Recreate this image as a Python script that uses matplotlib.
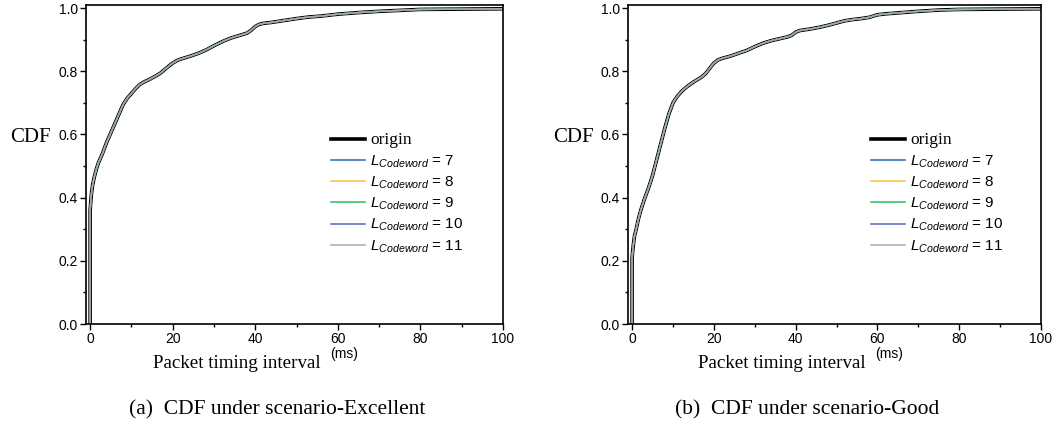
import matplotlib
matplotlib.use("Agg")
import matplotlib.pyplot as plt
from matplotlib.ticker import MultipleLocator

# CDF of packet timing interval, scenario Excellent
x_excellent = [0, 0, 0.3, 0.6, 1.0, 1.5, 2, 3, 4, 5, 6, 7, 8, 9, 10, 11, 12, 13, 14, 15,
               16, 17, 18, 19, 20, 21, 22, 24, 26, 28, 30, 32, 34, 36, 38, 39, 40, 41, 42,
               44, 46, 48, 50, 53, 56, 60, 65, 70, 75, 80, 90, 100]
cdf_excellent = [0, 0.36, 0.41, 0.44, 0.465, 0.49, 0.51, 0.54, 0.575, 0.605, 0.635, 0.665,
                 0.695, 0.715, 0.73, 0.745, 0.758, 0.766, 0.772, 0.779, 0.786, 0.794, 0.805,
                 0.816, 0.826, 0.834, 0.839, 0.847, 0.856, 0.867, 0.881, 0.894, 0.905, 0.913,
                 0.921, 0.93, 0.942, 0.949, 0.952, 0.955, 0.959, 0.963, 0.967, 0.972, 0.975,
                 0.981, 0.986, 0.99, 0.993, 0.996, 0.997, 0.998]

# scenario Good
x_good = [0, 0, 0.3, 0.6, 1, 1.5, 2, 3, 4, 5, 6, 7, 8, 9, 10, 11, 12, 13, 14, 15, 16, 17,
          18, 19, 20, 21, 22, 24, 26, 28, 30, 32, 34, 36, 38, 39, 40, 41, 42, 44, 46, 48,
          50, 52, 54, 56, 58, 60, 62, 65, 70, 75, 80, 90, 100]
cdf_good = [0, 0.21, 0.25, 0.28, 0.30, 0.33, 0.355, 0.395, 0.43, 0.47, 0.52, 0.57, 0.62,
            0.665, 0.70, 0.72, 0.735, 0.747, 0.757, 0.766, 0.774, 0.782, 0.793, 0.81, 0.826,
            0.836, 0.841, 0.848, 0.857, 0.866, 0.878, 0.889, 0.897, 0.903, 0.909, 0.914,
            0.924, 0.929, 0.931, 0.935, 0.94, 0.946, 0.953, 0.96, 0.964, 0.967, 0.971, 0.979,
            0.982, 0.985, 0.99, 0.994, 0.996, 0.997, 0.998]

codeword_lengths = [7, 8, 9, 10, 11]
codeword_colors = ["#2a64b0", "#f7c244", "#24c25c", "#5867b4", "#a9a9a9"]

captions = ["(a)  CDF under scenario-Excellent", "(b)  CDF under scenario-Good"]

plt.rcParams.update({
    "font.family": "Liberation Sans",
    "mathtext.fontset": "custom",
    "mathtext.it": "Liberation Sans:italic",
    "mathtext.rm": "Liberation Sans",
})

fig = plt.figure(figsize=(10.57, 4.32), dpi=100)
ax_a = fig.add_axes([86 / 1057, 1 - 324 / 432, 417 / 1057, 319 / 432])
ax_b = fig.add_axes([628 / 1057, 1 - 324 / 432, 413 / 1057, 319 / 432])

serif = "Liberation Serif"

for ax, xs, ys, cap, cx in [(ax_a, x_excellent, cdf_excellent, captions[0], 277),
                             (ax_b, x_good, cdf_good, captions[1], 807)]:
    ax.plot(xs, ys, color="black", linewidth=2.6, label="origin")
    for n, c in zip(codeword_lengths, codeword_colors):
        ax.plot(xs, ys, color=c, linewidth=1.1, label=r"$L_{Codeword}$ = %d" % n)

    ax.set_xlim(-1, 100)
    ax.set_ylim(0, 1.01)
    ax.xaxis.set_major_locator(MultipleLocator(20))
    ax.xaxis.set_minor_locator(MultipleLocator(10))
    ax.yaxis.set_major_locator(MultipleLocator(0.2))
    ax.yaxis.set_minor_locator(MultipleLocator(0.1))
    ax.yaxis.set_major_formatter(plt.FormatStrFormatter("%.1f"))
    ax.tick_params(which="major", direction="out", length=4, width=1, labelsize=10, pad=2)
    ax.tick_params(which="minor", direction="out", length=2.5, width=1)
    for s in ax.spines.values():
        s.set_linewidth(1.2)

    leg = ax.legend(loc="upper left", bbox_to_anchor=(0.57, 0.625), frameon=False,
                    fontsize=11, handlelength=2.2, handletextpad=0.35,
                    labelspacing=0.32, borderpad=0)
    leg.get_lines()[0].set_linewidth(2.6)
    leg.get_texts()[0].set_fontfamily(serif)
    leg.get_texts()[0].set_fontsize(12.5)

    fig.text(cx / 1057, 1 - 410 / 432, cap, family=serif, fontsize=15.5,
             ha="center", va="center")

# axis labels placed as in the original figure
for x_cdf, x_lbl, x_ms in [(30, 237, 330), (573, 782, 875)]:
    fig.text(x_cdf / 1057, 1 - 138 / 432, "CDF", family=serif, fontsize=15,
             ha="center", va="center")
    fig.text(x_lbl / 1057, 1 - 363 / 432, "Packet timing interval", family=serif,
             fontsize=13.7, ha="center", va="center")
    fig.text(x_ms / 1057, 1 - 354 / 432, "(ms)", fontsize=10, ha="left", va="center")

fig.savefig("out.png", dpi=100)
